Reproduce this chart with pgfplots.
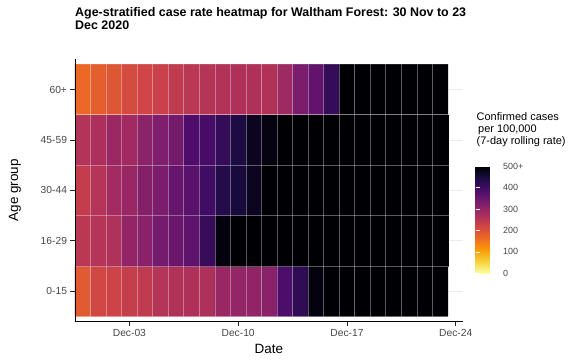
\documentclass[border=0pt]{standalone}
\usepackage{fontspec}
\setmainfont{Liberation Sans}
\usepackage{pgfplots}
\pgfplotsset{compat=1.18}
\begin{document}
\begin{tikzpicture}
\path[use as bounding box] (-75bp,-41.7bp) rectangle (498bp,321.3bp);
% title
\node[anchor=north west, inner sep=0pt, align=left,
      font=\bfseries\fontsize{12.5}{13.6}\selectfont] at (0bp,314.5bp)
  {Age-stratified case rate heatmap for Waltham Forest: 30 Nov to 23\\Dec 2020};
\begin{axis}[
  at={(0,0)}, anchor=south west,
  scale only axis, width=387.7bp, height=262bp,
  xmin=-0.5, xmax=24.45, ymin=0.4, ymax=5.6,
  axis lines*=left,
  axis line style={line width=0.8bp, black},
  axis on top,
  tick align=outside, major tick length=4.5bp,
  tick style={line width=0.7bp, black!85},
  xtick={3,10,17,24}, xticklabels={Dec-03,Dec-10,Dec-17,Dec-24},
  ytick={1,2,3,4,5}, yticklabels={0-15,16-29,30-44,45-59,60+},
  minor xtick={0.5,1.5,...,22.5}, minor ytick={1.5,2.5,3.5,4.5},
  minor tick length=0pt,
  xminorgrids, yminorgrids,
  minor grid style={white, opacity=0.35, line width=0.6bp},
  ticklabel style={font=\fontsize{10.3}{12}\selectfont, text=black!72},
  /pgf/number format/assume math mode=true,
  xlabel={Date}, ylabel={Age group},
  every axis x label/.style={at={(axis description cs:0.5,0)}, anchor=base,
    yshift=-32.5bp, font=\fontsize{13.5}{16}\selectfont},
  every axis y label/.style={at={(axis description cs:-0.1548,0.5)}, rotate=90,
    anchor=center, font=\fontsize{13.5}{16}\selectfont},
  colormap={infr}{rgb255=(252,255,164) rgb255=(247,208,60) rgb255=(251,154,6)
    rgb255=(237,105,37) rgb255=(207,68,70) rgb255=(165,44,96) rgb255=(120,28,109)
    rgb255=(75,12,107) rgb255=(27,12,66) rgb255=(0,0,4)},
  point meta min=0, point meta max=500,
  colorbar,
  colorbar style={
    at={(parent axis.south east)}, anchor=south west, xshift=4.5bp, yshift=48bp,
    scale only axis, width=21bp, height=107bp,
    ytick={0,100,200,300,400,500}, yticklabels={0,100,200,300,400,500+},
    axis line style={draw=none},
    tick align=inside, major tick length=4bp, ytick pos=both,
    tick style={white, line width=0.5bp},
    yticklabel style={font=\fontsize{9}{10}\selectfont, text=black!72, xshift=3bp},
    /pgf/number format/assume math mode=true,
  },
]
% faint y grid to the right of the tiles
\addplot[forget plot, line width=0.6bp, black!8, unbounded coords=jump] coordinates {
  (23.5,1) (24.45,1) (nan,nan) (23.5,2) (24.45,2) (nan,nan) (23.5,3) (24.45,3)
  (nan,nan) (23.5,4) (24.45,4) (nan,nan) (23.5,5) (24.45,5)};
% cases per 100,000 by day (0 = 30 Nov) and age group (1 = 0-15 ... 5 = 60+)
\addplot[matrix plot*, mesh/cols=24, point meta=explicit]
  table[row sep=\\, meta=c] {
  x y c\\
  0 1 188\\ 1 1 218\\ 2 1 225\\ 3 1 236\\ 4 1 243\\ 5 1 256\\ 6 1 263\\ 7 1 265\\
  8 1 267\\ 9 1 294\\ 10 1 300\\ 11 1 304\\ 12 1 312\\ 13 1 387\\ 14 1 420\\ 15 1 490\\
  16 1 500\\ 17 1 500\\ 18 1 500\\ 19 1 500\\ 20 1 500\\ 21 1 500\\ 22 1 500\\ 23 1 500\\
  0 2 250\\ 1 2 258\\ 2 2 264\\ 3 2 302\\ 4 2 312\\ 5 2 338\\ 6 2 350\\ 7 2 365\\
  8 2 410\\ 9 2 490\\ 10 2 500\\ 11 2 500\\ 12 2 500\\ 13 2 500\\ 14 2 500\\ 15 2 500\\
  16 2 500\\ 17 2 500\\ 18 2 500\\ 19 2 500\\ 20 2 500\\ 21 2 500\\ 22 2 500\\ 23 2 500\\
  0 3 238\\ 1 3 258\\ 2 3 280\\ 3 3 294\\ 4 3 318\\ 5 3 330\\ 6 3 357\\ 7 3 370\\
  8 3 400\\ 9 3 435\\ 10 3 450\\ 11 3 475\\ 12 3 500\\ 13 3 500\\ 14 3 500\\ 15 3 500\\
  16 3 500\\ 17 3 500\\ 18 3 500\\ 19 3 500\\ 20 3 500\\ 21 3 500\\ 22 3 500\\ 23 3 500\\
  0 4 260\\ 1 4 268\\ 2 4 290\\ 3 4 284\\ 4 4 310\\ 5 4 325\\ 6 4 340\\ 7 4 385\\
  8 4 395\\ 9 4 415\\ 10 4 442\\ 11 4 475\\ 12 4 488\\ 13 4 500\\ 14 4 500\\ 15 4 500\\
  16 4 500\\ 17 4 500\\ 18 4 500\\ 19 4 500\\ 20 4 500\\ 21 4 500\\ 22 4 500\\ 23 4 500\\
  0 5 168\\ 1 5 182\\ 2 5 194\\ 3 5 212\\ 4 5 220\\ 5 5 230\\ 6 5 243\\ 7 5 251\\
  8 5 256\\ 9 5 261\\ 10 5 265\\ 11 5 265\\ 12 5 263\\ 13 5 286\\ 14 5 330\\ 15 5 360\\
  16 5 415\\ 17 5 500\\ 18 5 500\\ 19 5 500\\ 20 5 500\\ 21 5 500\\ 22 5 500\\ 23 5 500\\
};
\end{axis}
% legend title
\node[anchor=north west, inner sep=0pt, align=left,
      font=\fontsize{11}{12}\selectfont] at (401.5bp,209.3bp)
  {Confirmed cases\\\hspace*{1.5bp}per 100,000\\(7-day rolling rate)};
\end{tikzpicture}
\end{document}
